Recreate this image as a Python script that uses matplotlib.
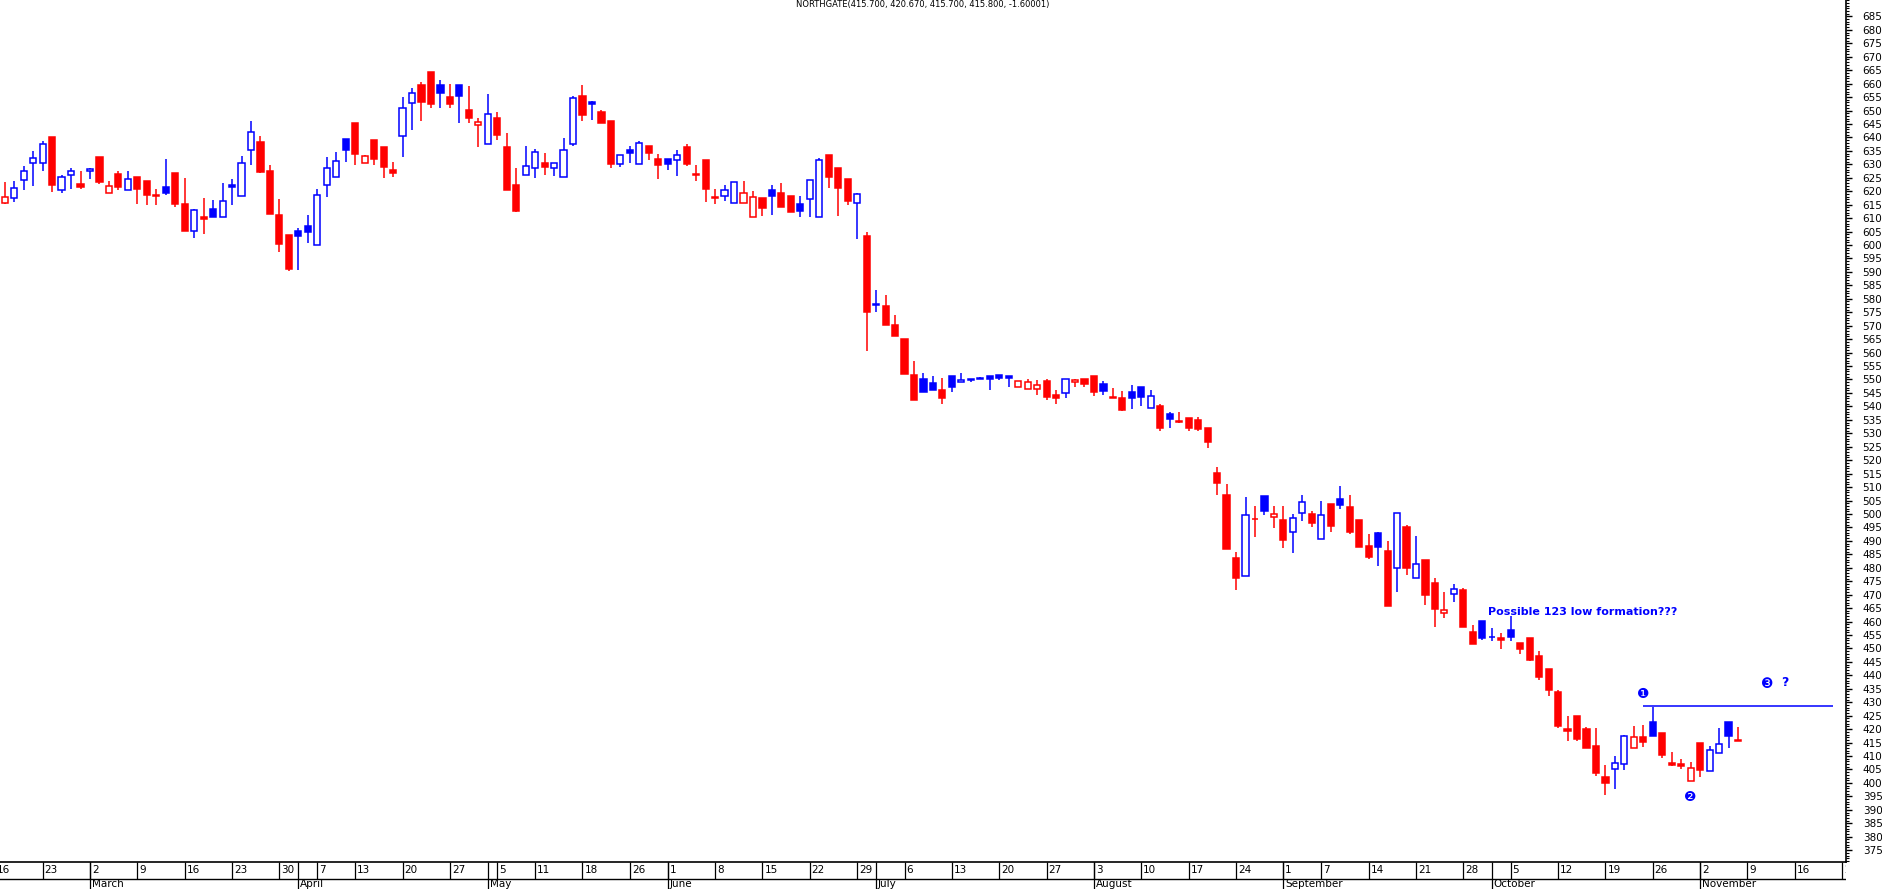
import numpy as np
import pandas as pd
import matplotlib
matplotlib.use("Agg")
import matplotlib.pyplot as plt
from matplotlib.ticker import MultipleLocator

plt.rcParams['font.family'] = ['Liberation Sans Narrow', 'DejaVu Sans']

# trading days: Feb 17 2015 .. Nov 6 2015 (UK holidays removed)
first_day = '2015-02-16'
last_day = '2015-11-27'
holidays = ['2015-04-03', '2015-04-06', '2015-05-04', '2015-05-25', '2015-08-31']

close_before = 619.0  # close on Feb 16, colours the first candle

opens = [615.5, 617.4, 624.2, 630.4, 630.4, 640.0, 620.3, 625.9, 622.6, 627.5,
         632.7, 619.2, 626.4, 620.3, 625.2, 623.8, 618.6, 621.4, 626.8, 615.2,
         605.3, 610.4, 613.4, 610.5, 622.3, 618.3, 635.4, 638.3, 627.5, 611.2,
         603.7, 605.2, 607.1, 599.9, 622.2, 625.2, 639.3, 645.4, 630.4, 639.0,
         636.4, 627.9, 640.4, 652.7, 659.5, 664.3, 659.5, 655.0, 659.5, 650.2,
         644.5, 637.4, 647.2, 636.4, 622.3, 625.9, 628.5, 630.5, 628.5, 625.2,
         637.4, 655.4, 653.2, 649.4, 646.1, 630.2, 635.3, 630.2, 637.0, 631.8,
         631.8, 631.5, 636.3, 626.3, 631.6, 617.8, 618.3, 615.5, 615.5, 610.6,
         617.5, 620.4, 619.3, 618.2, 615.2, 617.0, 610.6, 633.5, 628.6, 624.5,
         615.5, 603.3, 578.0, 577.3, 570.2, 565.1, 551.7, 550.2, 548.7, 546.1,
         551.3, 548.9, 550.2, 550.4, 551.2, 551.5, 551.2, 547.1, 546.4, 546.4,
         549.3, 544.1, 545.1, 548.9, 550.0, 551.3, 548.2, 543.5, 543.0, 545.2,
         547.1, 539.3, 540.0, 537.0, 534.5, 535.5, 534.8, 531.8, 515.2, 507.1,
         483.6, 476.8, 498.3, 506.6, 498.8, 497.8, 493.2, 500.3, 500.0, 490.8,
         503.7, 505.6, 502.6, 497.8, 488.1, 492.9, 486.2, 479.8, 495.0, 476.1,
         482.9, 474.4, 463.3, 470.1, 471.8, 456.1, 460.2, 454.3, 453.8, 456.7,
         451.9, 453.8, 447.2, 442.4, 433.7, 420.0, 424.8, 419.9, 413.8, 402.2,
         405.1, 406.9, 412.9, 417.0, 422.7, 418.5, 407.4, 407.2, 400.9, 414.9,
         404.6, 411.0, 422.6, 415.7]

highs = [623.4, 623.8, 629.4, 635.0, 638.7, 640.2, 626.0, 628.5, 627.5, 628.6,
         632.7, 623.8, 627.5, 627.5, 625.2, 623.8, 620.8, 632.0, 626.8, 624.9,
         613.5, 617.6, 616.7, 623.0, 624.5, 633.1, 646.1, 640.5, 629.7, 617.1,
         603.7, 606.3, 611.2, 620.8, 632.7, 634.6, 639.3, 645.4, 633.5, 639.0,
         636.4, 630.8, 654.9, 658.4, 660.6, 664.3, 661.3, 659.9, 659.5, 659.1,
         647.2, 656.1, 649.4, 641.6, 628.7, 636.8, 635.7, 634.2, 630.4, 639.8,
         655.4, 659.5, 653.5, 650.2, 646.1, 633.3, 636.8, 638.7, 637.0, 633.7,
         631.8, 635.3, 637.5, 629.6, 631.6, 620.7, 622.2, 623.3, 623.8, 620.1,
         617.5, 622.3, 623.0, 618.2, 618.2, 624.0, 632.3, 633.5, 628.6, 624.5,
         619.4, 604.8, 583.3, 581.4, 574.0, 565.1, 556.9, 552.4, 551.3, 550.6,
         551.3, 552.4, 550.2, 550.9, 551.2, 551.5, 551.2, 549.3, 550.0, 549.7,
         550.0, 546.0, 550.0, 550.0, 550.0, 551.3, 549.4, 546.9, 545.8, 548.1,
         547.1, 546.1, 540.8, 537.8, 538.1, 535.5, 535.9, 531.8, 517.5, 511.2,
         486.0, 506.2, 502.9, 506.6, 502.9, 502.9, 499.9, 507.1, 501.2, 505.0,
         503.7, 510.4, 507.1, 497.8, 492.6, 493.4, 490.0, 500.2, 495.9, 491.8,
         482.9, 476.2, 471.0, 474.0, 472.5, 458.7, 460.2, 457.5, 455.6, 462.2,
         451.9, 453.8, 449.1, 442.4, 434.5, 424.9, 424.8, 420.8, 420.6, 406.6,
         410.0, 417.8, 421.2, 421.6, 428.4, 418.5, 411.4, 408.8, 407.8, 414.9,
         413.7, 420.4, 422.6, 420.67]

lows = [615.3, 616.1, 620.4, 621.9, 627.6, 619.8, 619.5, 620.7, 620.7, 624.4,
        622.8, 619.2, 620.4, 620.3, 615.2, 614.9, 614.9, 618.6, 614.3, 605.3,
        602.7, 604.2, 610.5, 610.5, 614.9, 618.3, 629.7, 626.9, 611.6, 597.5,
        590.5, 590.8, 600.9, 599.9, 618.0, 625.2, 631.0, 629.7, 630.4, 629.7,
        625.0, 625.4, 632.8, 642.8, 646.2, 651.1, 651.1, 651.1, 645.5, 645.5,
        636.5, 637.4, 639.0, 620.6, 612.4, 625.9, 625.0, 626.0, 625.8, 625.2,
        636.9, 646.2, 646.6, 645.5, 628.7, 628.9, 630.6, 630.2, 631.7, 624.7,
        627.9, 625.8, 629.5, 623.9, 616.1, 615.4, 616.5, 615.5, 615.5, 610.6,
        610.9, 611.2, 614.3, 612.4, 610.5, 610.5, 610.6, 621.3, 610.9, 615.0,
        602.1, 560.7, 575.2, 570.4, 566.3, 552.2, 542.5, 545.5, 546.2, 541.0,
        545.5, 548.9, 548.9, 550.0, 546.2, 549.9, 547.3, 547.1, 546.4, 544.4,
        542.5, 541.0, 543.3, 547.3, 547.3, 544.0, 544.4, 543.2, 538.4, 539.2,
        540.3, 539.3, 531.0, 532.1, 534.0, 531.0, 531.0, 524.6, 507.2, 487.1,
        471.9, 476.8, 491.6, 499.5, 494.6, 487.5, 485.6, 497.5, 495.3, 490.8,
        493.4, 502.0, 492.6, 487.9, 483.4, 480.8, 465.6, 471.1, 477.4, 476.1,
        466.3, 458.1, 461.5, 467.4, 457.8, 451.8, 453.2, 452.6, 449.8, 452.9,
        447.9, 445.5, 438.3, 432.5, 420.5, 415.7, 415.7, 413.1, 402.7, 395.5,
        397.8, 404.8, 412.9, 413.5, 417.6, 409.4, 406.4, 405.2, 400.9, 402.3,
        404.6, 411.0, 413.1, 415.7]

closes = [617.7, 621.1, 627.5, 632.2, 637.4, 622.4, 625.2, 627.4, 621.7, 628.1,
          623.5, 621.8, 621.7, 624.4, 620.9, 618.6, 618.3, 619.4, 615.2, 605.3,
          613.0, 609.8, 610.5, 616.2, 621.7, 630.4, 641.9, 627.1, 611.6, 600.3,
          591.2, 603.5, 605.0, 618.5, 628.5, 631.1, 635.4, 634.0, 633.0, 632.1,
          629.1, 626.9, 650.8, 656.4, 653.0, 652.4, 656.6, 652.4, 655.5, 647.3,
          645.7, 648.6, 641.0, 620.6, 612.8, 629.2, 634.4, 629.1, 630.4, 635.4,
          654.5, 648.4, 652.5, 645.5, 630.2, 633.3, 634.1, 637.8, 634.1, 629.9,
          630.2, 633.3, 630.2, 625.9, 620.9, 617.5, 620.3, 623.3, 619.2, 617.7,
          613.9, 618.3, 614.3, 612.4, 612.8, 624.0, 631.6, 625.4, 621.3, 616.5,
          618.8, 575.2, 577.6, 570.4, 566.3, 552.2, 542.5, 545.5, 546.2, 543.2,
          547.3, 549.8, 549.9, 550.0, 550.3, 550.4, 550.5, 549.3, 549.1, 547.8,
          543.6, 543.3, 550.0, 549.7, 548.4, 545.5, 545.8, 543.3, 538.8, 543.2,
          543.4, 543.7, 532.1, 535.4, 534.3, 532.1, 531.7, 526.9, 511.6, 487.1,
          476.3, 499.5, 498.0, 501.2, 499.9, 490.5, 498.4, 504.3, 496.8, 499.5,
          495.7, 503.5, 493.4, 487.9, 484.1, 487.9, 465.6, 500.2, 480.0, 481.3,
          470.0, 464.8, 464.2, 472.0, 457.8, 451.8, 454.0, 454.1, 453.0, 454.4,
          449.9, 445.7, 439.4, 434.5, 421.3, 419.4, 416.5, 413.1, 403.8, 400.1,
          407.3, 417.5, 417.0, 415.1, 417.6, 410.2, 406.7, 406.4, 405.4, 404.8,
          412.1, 414.4, 417.4, 415.8]

title = "NORTHGATE(415.700, 420.670, 415.700, 415.800, -1.60001)"
note = "Possible 123 low formation???"
resistance = 428.5

BLUE = '#0000ff'
RED = '#ff0000'

days = pd.bdate_range(first_day, last_day)
days = days[~days.isin(pd.to_datetime(holidays))]
pos = np.arange(len(days)) - 1          # Feb 16 sits just left of the first candle

fig = plt.figure(figsize=(18.83, 8.89), dpi=100)
W, H = 1883.0, 889.0
ax = fig.add_axes([0, 27 / H, 1846 / W, 862 / H])
axd = fig.add_axes([0, 0, 1846 / W, 27 / H], sharex=ax)

prev = close_before
for i in range(len(closes)):
    o, h, l, c = opens[i], highs[i], lows[i], closes[i]
    col = BLUE if c > prev else RED
    face = 'white' if c > o else col
    ax.vlines(i, l, h, color=col, lw=1.1, zorder=1)
    ax.bar(i, abs(c - o), bottom=min(o, c), width=0.65, color=face,
           edgecolor=col, linewidth=1.1, zorder=2)
    prev = c

# annotations
ax.hlines(resistance, 173.0, 193.0, color=BLUE, lw=1.1)
ax.text(156.6, 463.4, note, color=BLUE, fontsize=8, fontweight='bold',
        va='center', ha='left')
circ = dict(color=BLUE, fontsize=10, ha='center', va='center',
            family=['DejaVu Sans'])
ax.text(173.0, 433.0, '\u2776', **circ)
ax.text(178.0, 394.9, '\u2777', **circ)
ax.text(186.1, 436.7, '\u2778', **circ)
ax.text(187.9, 437.4, '?', color=BLUE, fontsize=9, fontweight='bold',
        ha='center', va='center')

ax.set_xlim(-0.5, 194.4)
ax.set_ylim(370.6, 691.1)
ax.set_xticks([])
for s in ['top', 'left']:
    ax.spines[s].set_visible(False)
ax.spines['right'].set_linewidth(1.2)
ax.spines['bottom'].set_linewidth(1.2)
ax.yaxis.tick_right()
ax.yaxis.set_minor_locator(MultipleLocator(1))
ax.tick_params(axis='y', which='major', length=4, width=1, pad=8, labelsize=7.5)
ax.tick_params(axis='y', which='minor', length=2, width=0.8)
ticks = [t for t in np.arange(375, 690, 5)]
ax.set_yticks(ticks)
ax.set_yticklabels([str(t) for t in ticks])

fig.text(923 / W, 1 - 5 / H, title, ha='center', va='center', fontsize=6)

# date strip
axd.set_ylim(0, 1)
axd.axis('off')
axd.axhline(0.37, color='black', lw=1.0)
for k in range(len(days)):
    d = days[k]
    x = pos[k]
    if k == 0 or d.isocalendar()[1] != days[k - 1].isocalendar()[1]:
        axd.vlines(x, 0.37, 1, color='black', lw=0.9, clip_on=False)
        axd.text(x + 0.2, 0.69, str(d.day), fontsize=7.5, ha='left', va='center',
                 clip_on=True)
    if k > 0 and d.month != days[k - 1].month:
        axd.vlines(x, 0, 1, color='black', lw=0.9)
        axd.text(x + 0.2, 0.17, d.strftime('%B'), fontsize=7.5, ha='left',
                 va='center', clip_on=True)

fig.savefig('out.png', dpi=100)
